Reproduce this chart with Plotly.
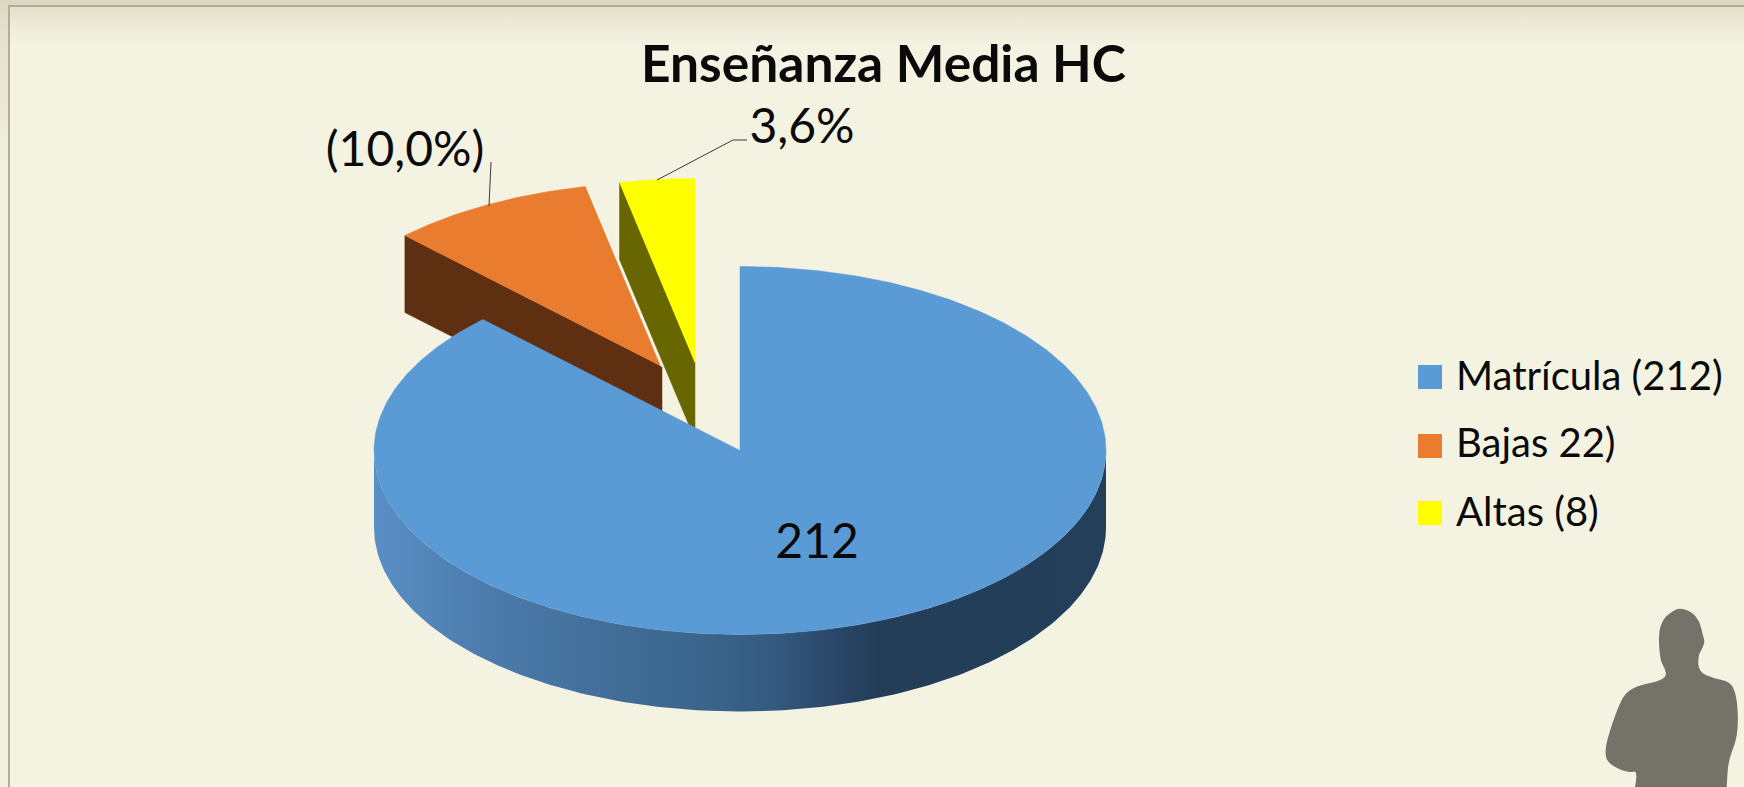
import numpy as np
import plotly.graph_objects as go

# ---- data ----
TITLE = "Enseñanza Media HC"
categories = ["Matrícula (212)", "Bajas 22)", "Altas (8)"]
values = [212, 22, 8]
slice_labels = ["212", "(10,0%)", "3,6%"]
top_colors = ["#5b9bd5", "#ea7c30", "#ffff00"]
side_colors = ["#2f5578", "#5f2f12", "#686600"]

# ---- pie geometry (pixels; the axes below map 1:1 to the page) ----
CX, CY, RX, RY, DEPTH = 740.0, 450.5, 366.0, 184.0, 77.0
offsets = [(0, 0), (-78, -84), (-45, -88)]
BG = "#f4f3e2"
TXT = "#0a0a0a"
FONT = "Lato, Carlito, 'Open Sans', sans-serif"

total = sum(values)
edges = np.cumsum([0] + values) / total * 2 * np.pi


def ell(t, dx=0.0, dy=0.0):
    return CX + dx + RX * np.sin(t), CY + dy - RY * np.cos(t)


def poly(xs, ys, color, **kw):
    return go.Scatter(x=list(xs), y=list(ys), mode="lines", fill="toself", fillcolor=color,
                      line=dict(color=color, width=kw.pop("lw", 0.5)), hoverinfo="skip",
                      showlegend=False, **kw)


fig = go.Figure()

# slide frame
W, H = 1744, 787
FX, FY = 9, 6
strip_scale = [[0, "#dbd8c1"], [0.12, "#e2dfc9"], [1, "#f1efdd"]]
fig.add_trace(go.Scatter(x=[0, FX, FX, 0, 0], y=[0, 0, H, H, 0], mode="lines", fill="toself",
                         line=dict(width=0), hoverinfo="skip", showlegend=False,
                         fillgradient=dict(type="vertical", colorscale=strip_scale, start=0, stop=160)))
fig.add_trace(poly([0, W, W, 0, 0], [0, 0, FY, FY, 0], "#dcd9c2", lw=0))
fig.add_trace(go.Scatter(x=[FX, W, W, FX, FX], y=[FY, FY, 48, 48, FY], mode="lines", fill="toself",
                         line=dict(width=0), hoverinfo="skip", showlegend=False,
                         fillgradient=dict(type="vertical",
                                           colorscale=[[0, "#e2dfc9"], [0.55, "#efedda"], [1, BG]],
                                           start=FY, stop=48)))
fig.add_trace(go.Scatter(x=[FX, FX, W], y=[H, FY, FY], mode="lines", hoverinfo="skip", showlegend=False,
                         line=dict(color="#aeada0", width=2)))

# exploded slices, back to front: Altas, Bajas, then Matrícula
for i in [2, 1]:
    a0, a1 = edges[i], edges[i + 1]
    dx, dy = offsets[i]
    ax, ay = CX + dx, CY + dy
    sx, sy = ell(a0, dx, dy)
    # visible cut face on the slice's starting edge
    fig.add_trace(poly([sx, ax, ax, sx, sx], [sy, ay, ay + DEPTH, sy + DEPTH, sy], side_colors[i]))
    t = np.linspace(a0, a1, 60)
    ex, ey = ell(t, dx, dy)
    fig.add_trace(poly([ax, *ex, ax], [ay, *ey, ay], top_colors[i]))
    if i == 1:
        ox, oy = ell(a1, dx, dy)
        fig.add_trace(go.Scatter(x=[ox, ax], y=[oy, ay], mode="lines", hoverinfo="skip", showlegend=False,
                                 line=dict(color="#f8f6ea", width=2)))

# Matrícula: outer wall with horizontal shading, then top face
tw = np.linspace(np.pi / 2, 3 * np.pi / 2, 200)
wx, wy = ell(tw)
wall_x = np.r_[wx, wx[::-1], wx[0]]
wall_y = np.r_[wy, wy[::-1] + DEPTH, wy[0]]
fig.add_trace(go.Scatter(
    x=wall_x, y=wall_y, mode="lines", fill="toself", hoverinfo="skip", showlegend=False,
    line=dict(width=0),
    fillgradient=dict(type="horizontal", start=CX - RX, stop=CX + RX, colorscale=[
        [0, "#5a8fc6"], [0.12, "#4e7fb0"], [0.30, "#436f9a"], [0.47, "#396389"],
        [0.55, "#34597e"], [0.63, "#2a4768"], [0.69, "#233d57"], [1, "#233f59"]]),
))
t = np.linspace(edges[0], edges[1], 400)
ex, ey = ell(t)
fig.add_trace(poly([CX, *ex, CX], [CY, *ey, CY], top_colors[0]))

# data labels
fig.add_trace(go.Scatter(x=[817, 405, 802], y=[546, 154, 131], mode="text", text=slice_labels,
                         textposition="middle center", hoverinfo="skip", showlegend=False,
                         textfont=dict(family=FONT, size=48, color=TXT)))

# leader lines
fig.add_trace(go.Scatter(x=[491, 489], y=[162, 206], mode="lines", hoverinfo="skip", showlegend=False,
                         line=dict(color="#3a3a3a", width=1)))
fig.add_trace(go.Scatter(x=[747, 733, 657], y=[140, 140, 180], mode="lines", hoverinfo="skip", showlegend=False,
                         line=dict(color="#3a3a3a", width=1)))

# legend
leg_y = [377, 446, 513]
leg_text_y = [380, 447, 516]
fig.add_trace(go.Scatter(x=[1430] * 3, y=leg_y, mode="markers", hoverinfo="skip", showlegend=False,
                         marker=dict(symbol="square", size=24, color=top_colors, line=dict(width=0))))
fig.add_trace(go.Scatter(x=[1456] * 3, y=leg_text_y, mode="text", text=categories, textposition="middle right",
                         hoverinfo="skip", showlegend=False,
                         textfont=dict(family=FONT, size=40, color=TXT)))

# silhouette decoration (smoothed outline)
sil = [(765, 1341), (775, 1290), (745, 1300), (680, 1270), (675, 1225), (690, 1170), (715, 1100), (735, 1060),
       (770, 1038), (830, 1025), (860, 1010), (855, 985), (840, 960), (835, 880), (850, 835), (880, 812),
       (900, 804), (935, 815), (960, 845), (968, 885), (975, 905), (965, 930), (955, 945), (955, 995),
       (1000, 1015), (1050, 1025), (1068, 1060), (1075, 1130), (1070, 1200), (1045, 1260), (1040, 1341)]
pts = [(1380 + x / 3, 340 + y / 3) for x, y in sil]
path = f"M{pts[0][0]:.1f},{pts[0][1]:.1f}"
for p, q in zip(pts[1:-1], pts[2:]):
    path += f" Q{p[0]:.1f},{p[1]:.1f} {(p[0] + q[0]) / 2:.1f},{(p[1] + q[1]) / 2:.1f}"
path += f" L{pts[-1][0]:.1f},{pts[-1][1]:.1f} Z"

fig.update_layout(
    width=W, height=H, margin=dict(l=0, r=0, t=0, b=0),
    paper_bgcolor=BG, plot_bgcolor=BG, showlegend=False,
    xaxis=dict(range=[0, W], visible=False, fixedrange=True),
    yaxis=dict(range=[H, 0], visible=False, fixedrange=True),
    shapes=[dict(type="path", path=path, fillcolor="#73736a", line=dict(width=0), layer="above")],
    annotations=[dict(x=883, y=62, xref="x", yref="y", text=f"<b>{TITLE}</b>", showarrow=False,
                      font=dict(family=FONT, size=51.5, color=TXT), xanchor="center", yanchor="middle")],
)

fig.write_html("out.html", config=dict(displayModeBar=False),
               post_script="document.body.style.margin='0';document.body.style.overflow='hidden';")
